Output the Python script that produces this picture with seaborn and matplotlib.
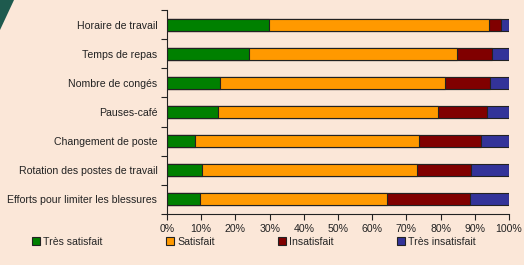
import numpy as np
import pandas as pd
import seaborn as sns
import matplotlib
matplotlib.use("Agg")
from matplotlib import pyplot as plt
from matplotlib.patches import Patch, Polygon

categories = [
    "Horaire de travail",
    "Temps de repas",
    "Nombre de congés",
    "Pauses-café",
    "Changement de poste",
    "Rotation des postes de travail",
    "Efforts pour limiter les blessures",
]
tres_satisfait = [29.8, 24.0, 15.5, 14.8, 8.2, 10.2, 9.7]
satisfait = [64.4, 60.8, 65.8, 64.4, 65.6, 62.8, 54.6]
insatisfait = [3.5, 10.2, 13.0, 14.3, 18.1, 15.8, 24.2]
tres_insatisfait = [2.3, 5.0, 5.7, 6.5, 8.1, 11.2, 11.5]

series_names = ["Très satisfait", "Satisfait", "Insatisfait", "Très insatisfait"]
colors = ["#008000", "#FF9900", "#800000", "#333399"]
bg = "#FBE7D8"
fs = 7.6

df = pd.DataFrame({
    "cat": categories,
    "Très satisfait": tres_satisfait,
    "Satisfait": satisfait,
    "Insatisfait": insatisfait,
    "Très insatisfait": tres_insatisfait,
})
cum = df[series_names].cumsum(axis=1)

sns.set_style("white")
plt.rcParams["font.family"] = ["Liberation Sans", "DejaVu Sans"]

fig = plt.figure(figsize=(5.24, 2.65), dpi=100, facecolor=bg)
ax = fig.add_axes([167 / 524, 1 - 214 / 265, 342 / 524, 204 / 265])
ax.set_facecolor(bg)

# stacked: draw the longest cumulative first so shorter ones sit on top
for name, col in reversed(list(zip(series_names, colors))):
    sns.barplot(x=cum[name].values, y=df["cat"].values, color=col, orient="h",
                saturation=1, width=0.41, edgecolor="#222222", linewidth=0.8,
                ax=ax, zorder=2)

ax.set_xlim(0, 100)
ax.set_ylim(6.5, -0.5)
ax.set_xticks(np.arange(0, 101, 10))
ax.set_xticklabels([f"{v}%" for v in range(0, 101, 10)], fontsize=fs, color="#222222")
ax.set_yticks(range(len(categories)))
ax.set_yticklabels(categories, fontsize=fs, color="#222222")
ax.set_yticks(np.arange(-0.5, 7.0, 1.0), minor=True)
ax.tick_params(axis="y", which="major", left=True, length=0, pad=7)
ax.tick_params(axis="y", which="minor", left=True, length=4, width=0.8,
               color="#222222", direction="out")
ax.tick_params(axis="x", bottom=True, length=4, width=0.8, color="#222222",
               direction="out", pad=3)
ax.set_xlabel("")
ax.set_ylabel("")
for s in ["top", "right"]:
    ax.spines[s].set_visible(False)
for s in ["left", "bottom"]:
    ax.spines[s].set_color("#222222")
    ax.spines[s].set_linewidth(0.8)

handles = [Patch(facecolor=c, edgecolor="#222222", linewidth=0.8) for c in colors]
fig.legend(handles, series_names, loc="center left", ncol=4, mode="expand",
           bbox_to_anchor=(28 / 524, 1 - 242 / 265, 452 / 524, 0.0),
           frameon=False, fontsize=fs, handlelength=0.75, handleheight=0.75,
           handletextpad=0.3, borderaxespad=0)

# decorative dark corner
fig.patches.append(Polygon([[0, 1], [14 / 524, 1], [0, 1 - 30 / 265]], closed=True,
                           transform=fig.transFigure, facecolor="#1E5A4E", edgecolor="none"))

fig.savefig("out.png", dpi=100, facecolor=bg)
